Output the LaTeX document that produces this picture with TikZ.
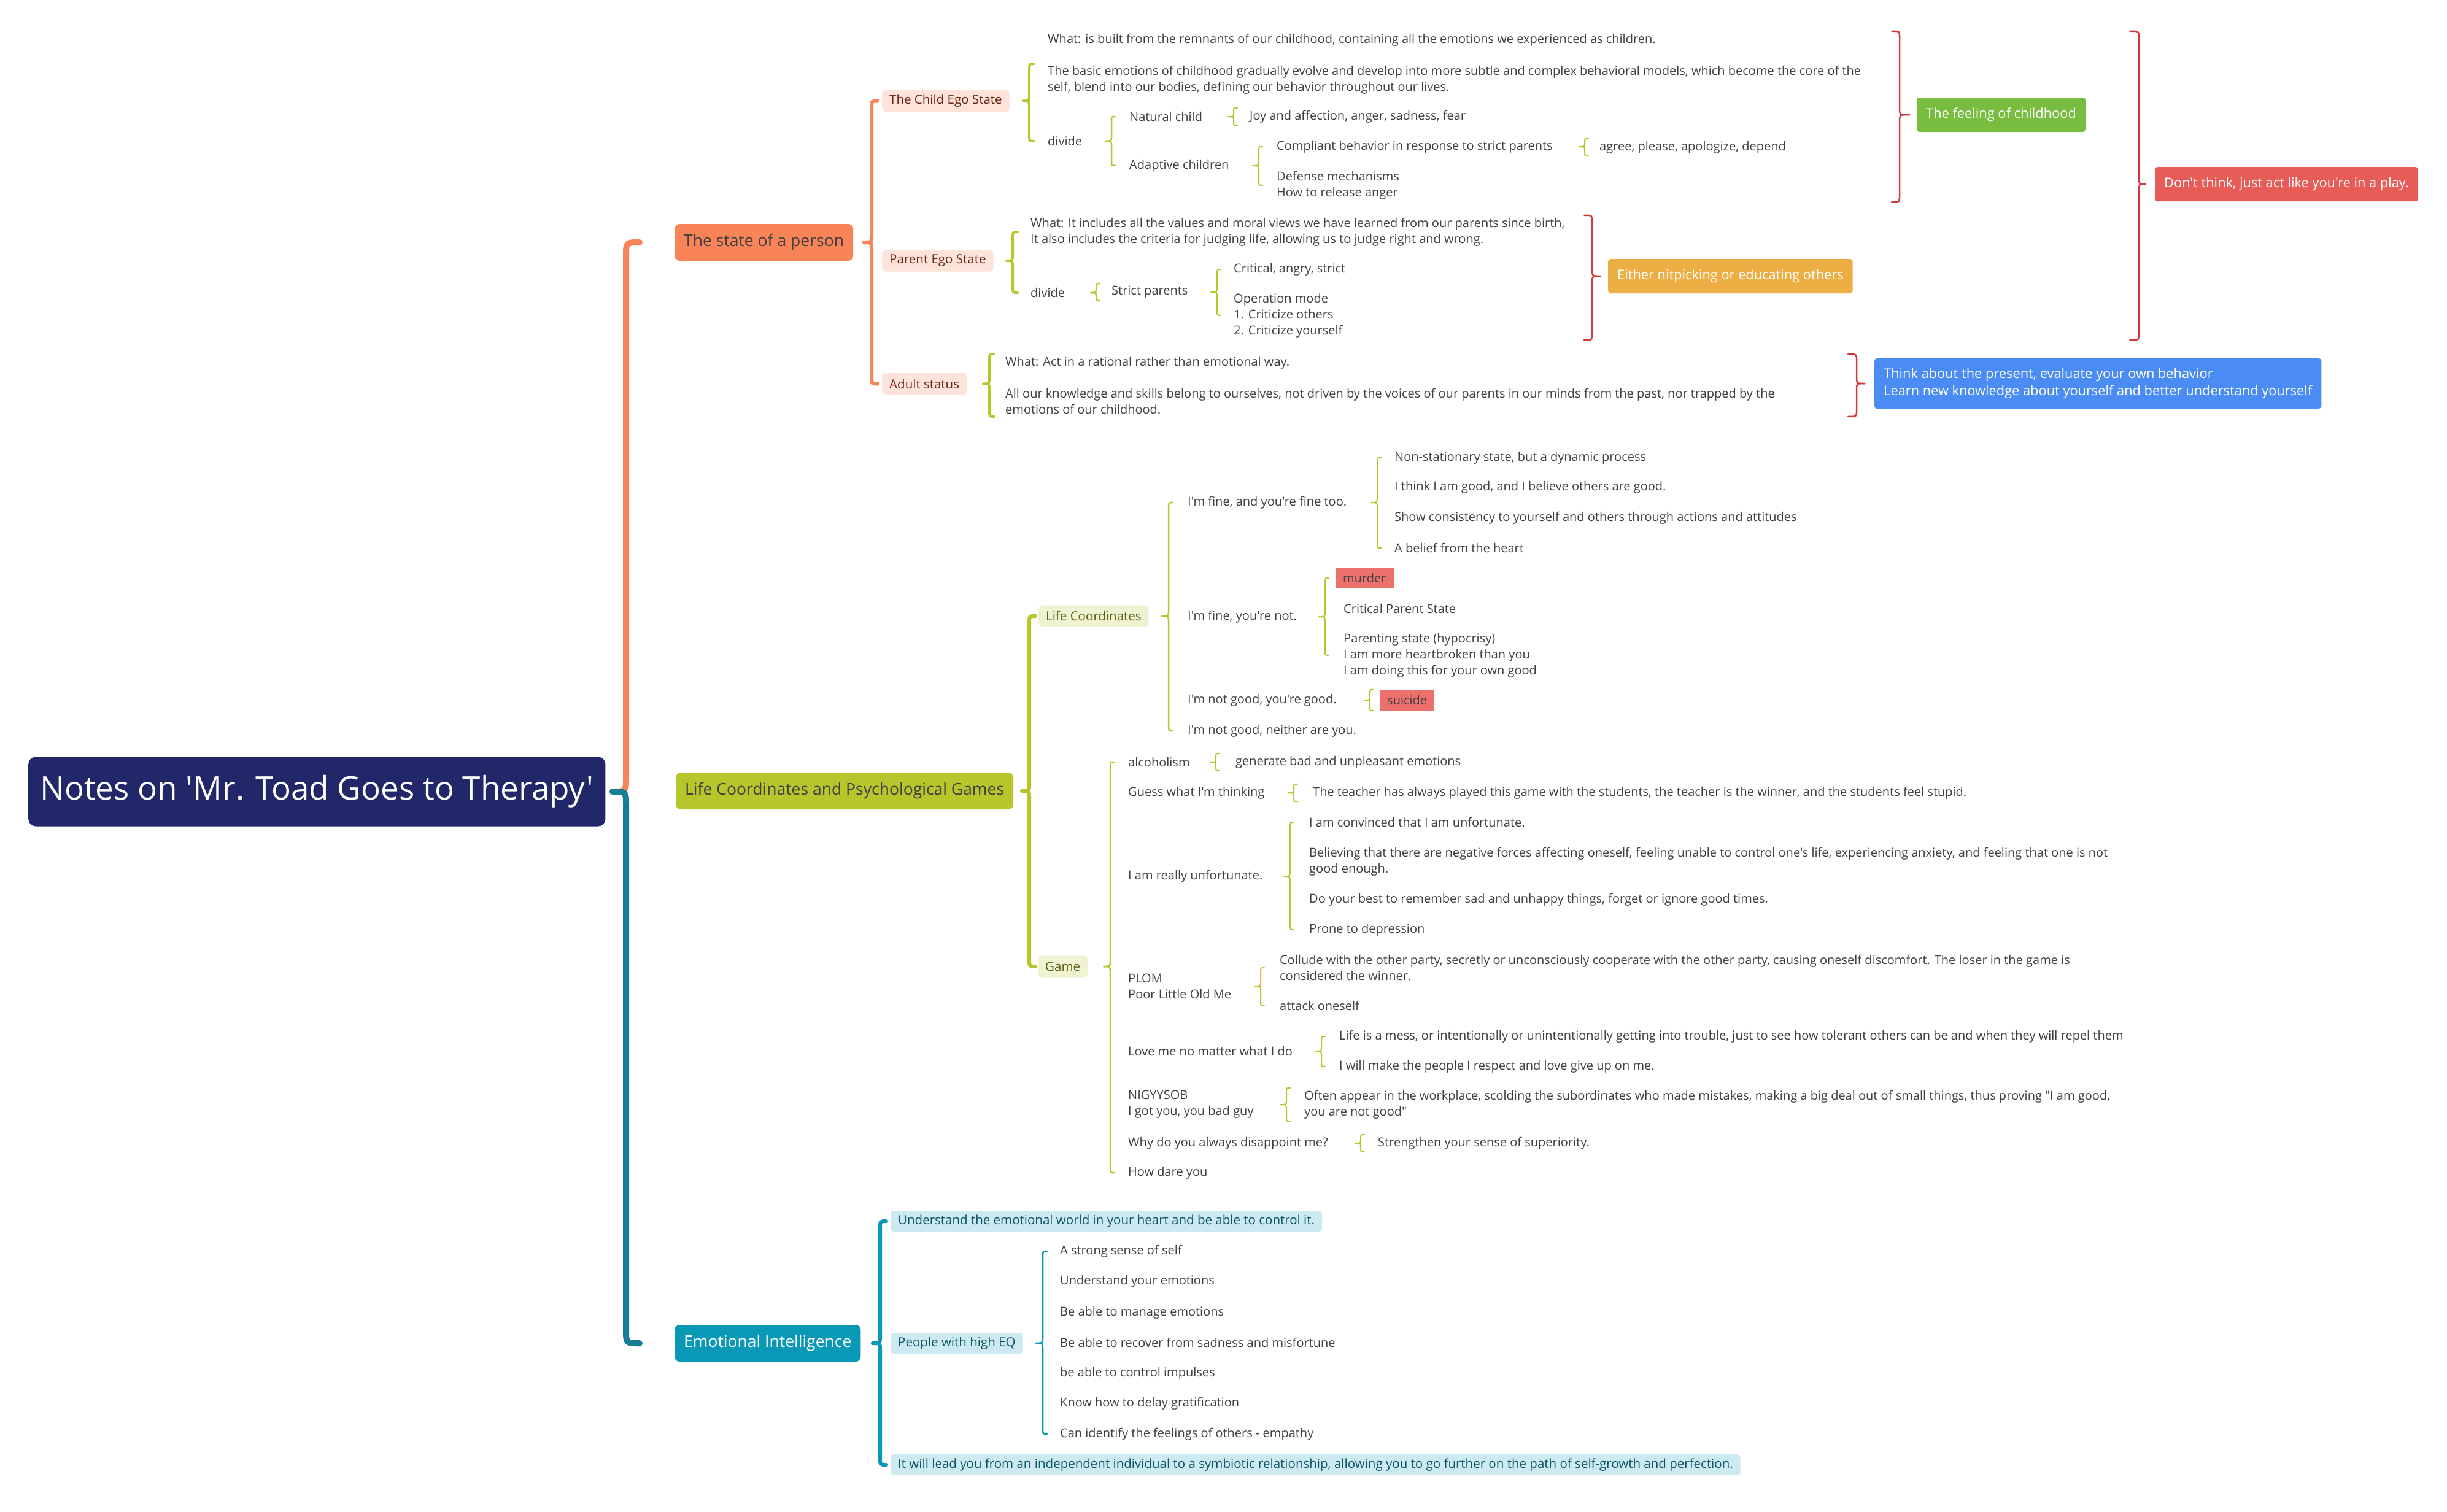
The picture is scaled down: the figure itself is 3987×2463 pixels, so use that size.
\documentclass[tikz,border=0pt]{standalone}
\usepackage{fontspec}
\setmainfont{Open Sans}[Ligatures=TeXOff]
\usetikzlibrary{calc}
\definecolor{navyc}{HTML}{212768}
\definecolor{orng}{HTML}{F98457}
\definecolor{olive}{HTML}{B7C62B}
\definecolor{tealm}{HTML}{167F95}
\definecolor{teall}{HTML}{0A98B7}
\definecolor{redb}{HTML}{D0393B}
\definecolor{txtc}{HTML}{404040}
\definecolor{pinkf}{HTML}{FDE3DA}
\definecolor{pinkt}{HTML}{6B2412}
\definecolor{olivef}{HTML}{EFF3D2}
\definecolor{olivet}{HTML}{5A6014}
\definecolor{cyanf}{HTML}{CDEAF2}
\definecolor{cyant}{HTML}{0D5565}
\definecolor{greenb}{HTML}{78BD40}
\definecolor{redbox}{HTML}{E85C58}
\definecolor{yelb}{HTML}{EDAF43}
\definecolor{blueb}{HTML}{4A8CF4}
\definecolor{murd}{HTML}{EC716D}
\definecolor{pwarm}{HTML}{F5B24C}
% brace: #1 top style, #2 bottom style, #3 X, #4 tip ref, #5 top ref, #6 bottom ref, #7 r, #8 tip depth, #9 end curl
\newcommand\brc[9]{%
 \draw[line cap=round,#1] let \p1=(#4), \p2=(#5), \p4=(#3,0) in
  (\x4+#9pt,\y2) .. controls (\x4,\y2) .. (\x4,\y2-#7pt) -- (\x4,\y1+#7pt) .. controls (\x4,\y1) .. (\x4-#8pt,\y1);
 \draw[line cap=round,#2] let \p1=(#4), \p3=(#6), \p4=(#3,0) in
  (\x4-#8pt,\y1) .. controls (\x4,\y1) .. (\x4,\y1-#7pt) -- (\x4,\y3+#7pt) .. controls (\x4,\y3) .. (\x4+#9pt,\y3);
}
\begin{document}
\begin{tikzpicture}[x=1pt,y=-1pt,
 txt/.style={anchor=west,inner xsep=0pt,inner ysep=4pt,align=left,text=txtc,font=\fontsize{20}{26}\selectfont},
 rootbox/.style={anchor=west,fill=navyc,text=white,rounded corners=12pt,minimum height=113pt,inner xsep=19pt,font=\fontsize{53}{60}\selectfont},
 lone/.style={anchor=west,rounded corners=8pt,minimum height=60pt,inner xsep=15pt,font=\fontsize{26.5}{30}\selectfont},
 ltwo/.style={anchor=west,rounded corners=6pt,minimum height=35pt,inner xsep=12pt,font=\fontsize{20.5}{26}\selectfont},
 pinkbox/.style={ltwo,fill=pinkf,text=pinkt},
 olivebox/.style={ltwo,fill=olivef,text=olivet},
 cyanbox/.style={ltwo,fill=cyanf,text=cyant,rounded corners=5pt,minimum height=34pt},
 summ/.style={anchor=west,rounded corners=4pt,minimum height=56pt,inner xsep=15pt,text=white,align=left,font=\fontsize{21.8}{28}\selectfont},
 tagbox/.style={anchor=west,fill=murd,minimum height=34pt,inner xsep=12pt,text=txtc,font=\fontsize{20}{26}\selectfont},
 bmain/.style={line width=10pt},
 btwo/.style={line width=6pt},
 bthree/.style={line width=4pt},
 bfour/.style={line width=2.5pt},
 bfive/.style={line width=2pt},
 bred/.style={redb,line width=2.5pt}
]
\fill[white] (0,0) rectangle (3987,2463);
\useasboundingbox (0,0) rectangle (3987,2463);

% root and level 1
\node[rootbox] (root) at (46,1290) {Notes on 'Mr. Toad Goes to Therapy'};
\node[lone,fill=orng,text=txtc] (s1) at (1099,395) {The state of a person};
\node[lone,fill=olive,text=txtc] (s2) at (1101,1289) {Life Coordinates and Psychological Games};
\node[lone,fill=teall,text=white] (s3) at (1099,2189) {Emotional Intelligence};

% state of a person
\node[pinkbox] (ce) at (1437,164.5) {The Child Ego State};
\node[pinkbox] (pe) at (1437,425) {Parent Ego State};
\node[pinkbox] (ad) at (1437,625.5) {Adult status};

\node[txt] (ce1) at (1707,104) {What: is built from the remnants of our childhood, containing all the emotions we experienced as children.\\[26pt]The basic emotions of childhood gradually evolve and develop into more subtle and complex behavioral models, which become the core of the\\self, blend into our bodies, defining our behavior throughout our lives.};
\node[txt] (ce2) at (1707,230) {divide};
\node[txt] (nc) at (1840,190) {Natural child};
\node[txt] (ac) at (1840,270) {Adaptive children};
\node[txt] (nc1) at (2036,190) {Joy and affection, anger, sadness, fear};
\node[txt] (ac1) at (2080,239) {Compliant behavior in response to strict parents};
\node[txt] (ac2) at (2080,302) {Defense mechanisms\\How to release anger};
\node[txt] (ac11) at (2606,240) {agree, please, apologize, depend};

\node[txt] (pe1) at (1679,378) {What: It includes all the values and moral views we have learned from our parents since birth,\\It also includes the criteria for judging life, allowing us to judge right and wrong.};
\node[txt] (pe2) at (1679,477) {divide};
\node[txt] (sp) at (1811,476) {Strict parents};
\node[txt] (sp1) at (2010,439) {Critical, angry, strict};
\node[txt] (sp2) at (2010,514) {Operation mode\\1. Criticize others\\2. Criticize yourself};

\node[txt] (ad1) at (1638,628) {What: Act in a rational rather than emotional way.\\[26pt]All our knowledge and skills belong to ourselves, not driven by the voices of our parents in our minds from the past, nor trapped by the\\emotions of our childhood.};

\node[summ,fill=greenb] (feel) at (3123,187) {The feeling of childhood};
\node[summ,fill=redbox] (dont) at (3511,300) {Don't think, just act like you're in a play.};
\node[summ,fill=yelb] (nit) at (2620,450) {Either nitpicking or educating others};
\node[summ,fill=blueb,minimum height=82pt] (blu) at (3054,625) {Think about the present, evaluate your own behavior\\Learn new knowledge about yourself and better understand yourself};

% life coordinates and games
\node[olivebox] (lc) at (1692,1004) {Life Coordinates};
\node[olivebox] (gm) at (1691,1575) {Game};

\node[txt] (f1) at (1935,819) {I'm fine, and you're fine too.};
\node[txt] (f2) at (1935,1005) {I'm fine, you're not.};
\node[txt] (f3) at (1935,1141) {I'm not good, you're good.};
\node[txt] (f4) at (1935,1191) {I'm not good, neither are you.};
\node[txt] (f11) at (2272,746) {Non-stationary state, but a dynamic process};
\node[txt] (f12) at (2272,794) {I think I am good, and I believe others are good.};
\node[txt] (f13) at (2272,844) {Show consistency to yourself and others through actions and attitudes};
\node[txt] (f14) at (2272,893) {A belief from the heart};
\node[tagbox] (mur) at (2176,942) {murder};
\node[txt] (f22) at (2189,992) {Critical Parent State};
\node[txt] (f23) at (2189,1068) {Parenting state (hypocrisy)\\I am more heartbroken than you\\I am doing this for your own good};
\node[tagbox] (sui) at (2248,1141) {suicide};

\node[txt] (g1) at (1838,1242) {alcoholism};
\node[txt] (g2) at (1838,1292) {Guess what I'm thinking};
\node[txt] (g3) at (1838,1428) {I am really unfortunate.};
\node[txt] (g4) at (1838,1607) {PLOM\\Poor Little Old Me};
\node[txt] (g5) at (1838,1713) {Love me no matter what I do};
\node[txt] (g6) at (1838,1800) {NIGYYSOB\\I got you, you bad guy};
\node[txt] (g7) at (1838,1863) {Why do you always disappoint me?};
\node[txt] (g8) at (1838,1911) {How dare you};
\node[txt] (g11) at (2013,1242) {generate bad and unpleasant emotions};
\node[txt] (g21) at (2139,1292) {The teacher has always played this game with the students, the teacher is the winner, and the students feel stupid.};
\node[txt] (g31) at (2133,1340) {I am convinced that I am unfortunate.};
\node[txt] (g32) at (2133,1404) {Believing that there are negative forces affecting oneself, feeling unable to control one's life, experiencing anxiety, and feeling that one is not\\good enough.};
\node[txt] (g33) at (2133,1466) {Do your best to remember sad and unhappy things, forget or ignore good times.};
\node[txt] (g34) at (2133,1515) {Prone to depression};
\node[txt] (g41) at (2085,1577) {Collude with the other party, secretly or unconsciously cooperate with the other party, causing oneself discomfort. The loser in the game is\\considered the winner.};
\node[txt] (g42) at (2085,1639) {attack oneself};
\node[txt] (g51) at (2182,1689) {Life is a mess, or intentionally or unintentionally getting into trouble, just to see how tolerant others can be and when they will repel them};
\node[txt] (g52) at (2182,1738) {I will make the people I respect and love give up on me.};
\node[txt] (g61) at (2125,1800) {Often appear in the workplace, scolding the subordinates who made mistakes, making a big deal out of small things, thus proving "I am good,\\you are not good"};
\node[txt] (g71) at (2245,1863) {Strengthen your sense of superiority.};

% emotional intelligence
\node[cyanbox] (e1) at (1451,1990) {Understand the emotional world in your heart and be able to control it.};
\node[cyanbox] (e2) at (1451,2189) {People with high EQ};
\node[cyanbox] (e3) at (1451,2387) {It will lead you from an independent individual to a symbiotic relationship, allowing you to go further on the path of self-growth and perfection.};
\node[txt] (p1) at (1727,2039) {A strong sense of self};
\node[txt] (p2) at (1727,2088) {Understand your emotions};
\node[txt] (p3) at (1727,2139) {Be able to manage emotions};
\node[txt] (p4) at (1727,2188) {Be able to recover from sadness and misfortune};
\node[txt] (p5) at (1727,2238) {be able to control impulses};
\node[txt] (p6) at (1727,2287) {Know how to delay gratification};
\node[txt] (p7) at (1727,2337) {Can identify the feelings of others - empathy};

% braces
\brc{orng,bmain}{tealm,bmain}{1020}{root.east}{s1.west}{s3.west}{22}{22}{22}
\brc{orng,btwo}{orng,btwo}{1420}{s1.east}{ce.west}{ad.west}{12}{12}{10}
\brc{olive,bthree}{olive,bthree}{1677}{ce.east}{ce1.west}{ce2.west}{10}{10}{8}
\brc{olive,bfour}{olive,bfour}{1811}{ce2.east}{nc.west}{ac.west}{8}{10}{6}
\brc{olive,bfive}{olive,bfive}{2010}{nc.east}{nc1.north west}{nc1.south west}{6}{9}{6}
\brc{olive,bfive}{olive,bfive}{2051}{ac.east}{ac1.west}{ac2.west}{8}{10}{6}
\brc{olive,bfive}{olive,bfive}{2582}{ac1.east}{ac11.north west}{ac11.south west}{6}{9}{6}
\brc{olive,bthree}{olive,bthree}{1650}{pe.east}{pe1.west}{pe2.west}{10}{10}{8}
\brc{olive,bfour}{olive,bfour}{1786}{pe2.east}{sp.north west}{sp.south west}{6}{9}{6}
\brc{olive,bfive}{olive,bfive}{1983}{sp.east}{sp1.west}{sp2.west}{8}{10}{6}
\brc{olive,bthree}{olive,bthree}{1612}{ad.east}{ad1.north west}{ad1.south west}{10}{10}{8}
\brc{bred}{bred}{3095}{feel.west}{ce1.north}{ac2.south}{10}{-16}{-13}
\brc{bred}{bred}{3485}{dont.west}{ce1.north}{sp2.south}{10}{-11}{-15}
\brc{bred}{bred}{2594}{nit.west}{pe1.north}{sp2.south}{10}{-14}{-13}
\brc{bred}{bred}{3025}{blu.west}{ad1.north}{ad1.south}{10}{-13}{-14}

\brc{olive,btwo}{olive,btwo}{1677}{s2.east}{lc.west}{gm.west}{12}{12}{10}
\brc{olive,bfour}{olive,bfour}{1904}{lc.east}{f1.west}{f4.west}{10}{11}{7}
\brc{olive,bfive}{olive,bfive}{2244}{f1.east}{f11.west}{f14.west}{8}{10}{6}
\brc{olive,bfive}{olive,bfive}{2159}{f2.east}{mur.west}{f23.west}{8}{10}{6}
\brc{olive,bfive}{olive,bfive}{2232}{f3.east}{sui.north west}{sui.south west}{6}{9}{6}
\brc{olive,bfour}{olive,bfour}{1809}{gm.east}{g1.west}{g8.west}{10}{11}{7}
\brc{olive,bfive}{olive,bfive}{1981}{g1.east}{g11.north west}{g11.south west}{6}{9}{6}
\brc{olive,bfive}{olive,bfive}{2108}{g2.east}{g21.north west}{g21.south west}{6}{9}{6}
\brc{olive,bfive}{olive,bfive}{2102}{g3.east}{g31.west}{g34.west}{8}{10}{6}
\brc{pwarm,bfive}{olive,bfive}{2054}{g4.east}{g41.west}{g42.west}{8}{10}{6}
\brc{olive,bfive}{olive,bfive}{2153}{g5.east}{g51.west}{g52.west}{8}{10}{6}
\brc{olive,bfive}{olive,bfive}{2096}{g6.east}{g61.north west}{g61.south west}{8}{10}{6}
\brc{olive,bfive}{olive,bfive}{2217}{g7.east}{g71.north west}{g71.south west}{6}{9}{6}

\brc{teall,btwo}{teall,btwo}{1434}{s3.east}{e1.west}{e3.west}{12}{12}{10}
\brc{teall,bfour}{teall,bfour}{1699}{e2.east}{p1.west}{p7.west}{10}{11}{7}
\end{tikzpicture}
\end{document}
